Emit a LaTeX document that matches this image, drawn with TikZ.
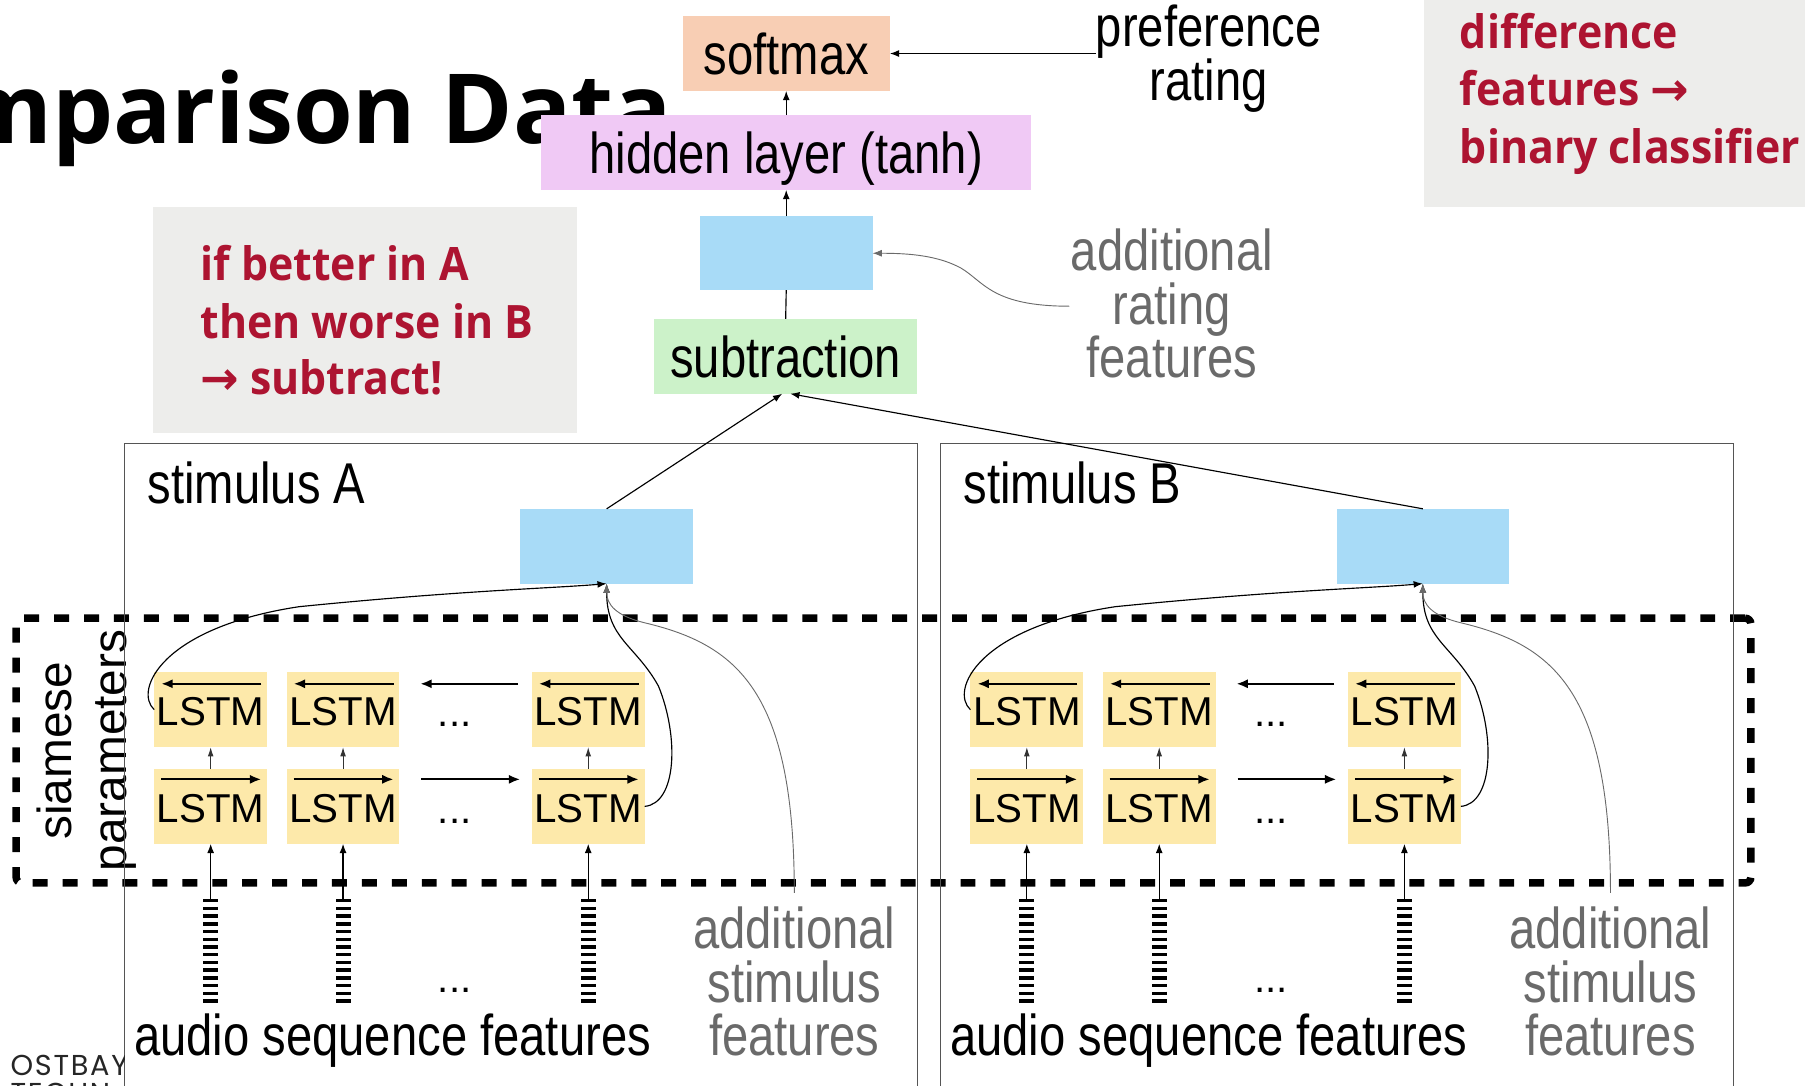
\documentclass[tikz,border=0pt]{standalone}
\usepackage{fontspec}
\setmainfont{Liberation Sans}
\newfontfamily\narrowsans{Liberation Sans}[FakeStretch=0.82]
\newfontfamily\opensans{Open Sans}
\newfontfamily\notesans{Open Sans}[FakeStretch=0.93]
\newfontfamily\dejavu{DejaVu Sans}
\newfontfamily\geosans{Poppins}[LetterSpace=6]
\usetikzlibrary{arrows.meta,calc}

\definecolor{peach}{HTML}{F8CEB4}
\definecolor{lilac}{HTML}{F0C9F5}
\definecolor{sky}{HTML}{A8DBF7}
\definecolor{mint}{HTML}{CCF2C9}
\definecolor{sand}{HTML}{FDE9AA}
\definecolor{notegray}{HTML}{EDEDEB}
\definecolor{notered}{HTML}{AD1431}
\definecolor{softgray}{HTML}{6A6A6A}
\definecolor{framegray}{HTML}{555555}

\newcommand\bigfont{\narrowsans\fontsize{50}{50}\selectfont}
\newcommand\cellfont{\fontsize{35}{35}\selectfont}
\newcommand\notefont{\notesans\bfseries\fontsize{40}{50}\selectfont}
\newcommand\titlefont{\opensans\bfseries\fontsize{84}{90}\selectfont}
\newcommand\sidefont{\fontsize{41.5}{45}\selectfont}

\tikzset{
  layer/.style={inner sep=0pt, outer sep=0pt, minimum height=65pt,
    font=\bigfont, text height=36pt, text depth=0pt},
  cell/.style={fill=sand, inner sep=0pt, outer sep=0pt, minimum width=98pt,
    minimum height=65pt, font=\cellfont, text height=28pt, text depth=0pt},
  notebox/.style={fill=notegray, inner sep=0pt, outer sep=0pt},
  noteline/.style={font=\notefont, text=notered, inner sep=0pt, anchor=base west},
  label/.style={font=\bigfont, inner sep=0pt, anchor=base},
  softlabel/.style={label, text=softgray},
  frame/.style={draw=framegray, line width=0.9pt, inner sep=0pt, outer sep=0pt},
  siamese/.style={draw, line width=6.5pt, dash pattern=on 13pt off 13pt,
    rounded corners=5pt, inner sep=0pt},
  conn/.style={line width=1pt, -{Latex[length=8pt,width=6pt]}},
  plain/.style={line width=1pt},
  softconn/.style={draw=softgray, line width=0.8pt, -{Latex[length=8pt,width=6pt]}},
  dirarrow/.style={line width=2pt, -{Latex[length=10pt,width=8pt]}},
  uparrow/.style={draw=black!80, line width=0.9pt, -{Latex[length=8pt,width=5pt]}},
  featbar/.style={line width=13pt, dash pattern=on 2.9pt off 3.8pt},
}

\begin{document}
\begin{tikzpicture}[x=1pt,y=-1pt]
\useasboundingbox (0,0) rectangle (1568,943);
\clip (0,0) rectangle (1568,943);

% slide title, partly covered by the network
\node[font=\titlefont, inner sep=0pt, anchor=base east] (title) at (584,125) {Comparison Data};

% side notes
\node[notebox, minimum width=368pt, minimum height=196pt] (noteA) at (317,278) {};
\node[noteline] (noteA1) at (174,244) {if better in A};
\node[noteline] (noteA2) at (174,294) {then worse in B};
\node[noteline] (noteA3) at (174,343) {{\dejavu\bfseries →} subtract!};

\node[notebox, minimum width=345pt, minimum height=190pt] (noteB) at (1409.5,85) {};
\node[noteline] (noteB1) at (1268,42) {difference};
\node[noteline] (noteB2) at (1268,92) {features {\dejavu\bfseries →}};
\node[noteline] (noteB3) at (1268,142) {binary classifier};

% rating head
\node[layer, fill=peach, minimum width=180pt] (softmax) at (683,46.5) {softmax};
\node[layer, fill=lilac, minimum width=426pt] (hidden) at (683,132.5) {hidden layer (tanh)};
\node[layer, fill=sky, minimum width=150pt, minimum height=64pt] (merge) at (683,220) {};
\node[layer, fill=mint, minimum width=229pt] (sub) at (682.5,309.5) {subtraction};

\draw[plain] (sub.north) -- (merge.south);
\draw[conn] (merge.north) -- (hidden.south);
\draw[conn] (hidden.north) -- (softmax.south);

\node[label] (pref1) at (1050,40) {preference};
\node[label] (pref2) at (1050,87) {rating};
\draw[conn] (pref1.west |- softmax.east) -- (softmax.east);

\node[softlabel] (arf1) at (1018,235) {additional};
\node[softlabel] (arf2) at (1018,282) {rating};
\node[softlabel] (arf3) at (1018,328) {features};
\coordinate (arfin) at ($(arf1.base west)+(-1,31)$);
\draw[softconn] (arfin) .. controls (862,266) and (855,245) .. (835,233)
  .. controls (815,222) and (790,220) .. (merge.east);

% shared-weight region
\node[siamese, minimum width=1507pt, minimum height=230pt] (siam) at (767.5,652) {};
\node[font=\sidefont, rotate=90, anchor=base, inner sep=0pt] (siam1) at (62.5,652) {siamese};
\node[font=\sidefont, rotate=90, anchor=base, inner sep=0pt] (siam2) at (110,652) {parameters};

% the two stimulus branches
\foreach \sd/\dx in {A/0,B/709} {
\begin{scope}[xshift=\dx pt]
  \node[frame, minimum width=689pt, minimum height=600pt, anchor=north west] (stim\sd) at (108,385) {};
  \node[label, anchor=base west] (stimlab\sd) at (128,437) {stimulus \sd};
  \node[layer, fill=sky, minimum width=150pt] (enc\sd) at (527,474.5) {};

  \foreach \col/\x in {1/183,2/298,3/511} {
    \node[cell] (cell\sd\col u) at (\x,616.5) {LSTM};
    \node[cell] (cell\sd\col d) at (\x,700.5) {LSTM};
    \draw[dirarrow] ($(cell\sd\col u.north east)+(-5,10)$) -- ($(cell\sd\col u.north west)+(6,10)$);
    \draw[dirarrow] ($(cell\sd\col d.north west)+(6,9)$) -- ($(cell\sd\col d.north east)+(-5,9)$);
    \draw[uparrow] (cell\sd\col d.north) -- (cell\sd\col u.south);
    \coordinate (feat\sd\col) at (\x,781);
    \draw[featbar] (feat\sd\col) -- ++(0,90);
    \draw[conn] (feat\sd\col) -- (cell\sd\col d.south);
  }

  \node[font=\cellfont, anchor=base, inner sep=0pt] (dots\sd u) at (395,631) {...};
  \node[font=\cellfont, anchor=base, inner sep=0pt] (dots\sd d) at (395,715) {...};
  \node[font=\cellfont, anchor=base, inner sep=0pt] (dots\sd f) at (395,862) {...};
  \draw[dirarrow] ($(cell\sd 3u.west)+(-12,-22.5)$) -- ($(cell\sd 2u.east)+(18,-22.5)$);
  \draw[dirarrow] ($(cell\sd 2d.east)+(19,-23.5)$) -- ($(cell\sd 3d.west)+(-10,-23.5)$);

  \node[label] (aud\sd) at (341,917) {audio sequence features};
  \node[softlabel] (asf\sd 1) at (690,824) {additional};
  \node[softlabel] (asf\sd 2) at (690,871) {stimulus};
  \node[softlabel] (asf\sd 3) at (690,917) {features};

  \draw[conn] (cell\sd 1u.west) .. controls (116,600) and (140,545) .. (260,527)
    .. controls (400,513) and (480,511) .. (enc\sd.south);
  \draw[conn] (cell\sd 3d.east) .. controls (588,698) and (590,640) .. (572,596)
    .. controls (552,560) and (527,555) .. (enc\sd.south);
  \coordinate (asftop\sd) at ($(asf\sd 1.north)+(0,-12)$);
  \draw[softconn] (asftop\sd) .. controls (690,600) and (640,560) .. (560,541)
    .. controls (535,535) and (527,525) .. (enc\sd.south);
\end{scope}
}

\draw[conn] (encA.north) -- ($(sub.south)+(-3,0)$);
\draw[conn] (encB.north) -- ($(sub.south)+(4,0)$);

% institution name at the lower left, cut by the frame
\begin{scope}
  \clip (0,895) rectangle (108,943);
  \node[font=\geosans\fontsize{25}{30}\selectfont, text=black!85, anchor=base west, inner sep=0pt] (brand1) at (9,934) {OSTBAY};
  \node[font=\geosans\fontsize{25}{30}\selectfont, text=black!85, anchor=base west, inner sep=0pt] (brand2) at (9,959) {TECHN};
\end{scope}
\end{tikzpicture}
\end{document}
